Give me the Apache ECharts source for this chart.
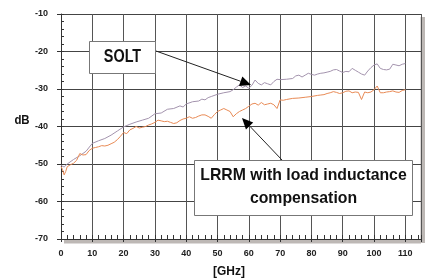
<!DOCTYPE html>
<html><head><meta charset="utf-8">
<script src="https://cdn.jsdelivr.net/npm/echarts@6/dist/echarts.min.js"></script>
<style>html,body{margin:0;padding:0;background:#fff}#c{width:425px;height:280px}</style>
</head><body><div id="c"></div>
<script>
const FONT = '"Liberation Sans",Arial,sans-serif';
const xTickLabels = [0,10,20,30,40,50,60,70,80,90,100,110];
const yTickLabels = [-70,-60,-50,-40,-30,-20,-10];

const soltX = [0,1,2,4,6,8,10,12,14,16,18,20,22,24,26,28,30,32,34,36,38,39,40,42,44,45,46,47,48,50,52,54,55,56,57,58,59,60,61,62,63,64,65,66,67,68,69,70,72,74,75,76,77,78,79,80,81,82,83,84,85,86,87,88,89,90,91,92,93,94,95,96,97,98,99,100,101,102,103,104,105,106,107,108,109,110];
const soltY = [-50.4,-50.8,-50,-48.8,-47.8,-46.6,-44.5,-43.8,-43.2,-42.3,-41.2,-40.1,-39.4,-38.8,-38.3,-37.8,-36.6,-36.4,-35.4,-35.2,-34.5,-34.8,-34.0,-33.4,-33.2,-32.7,-32.9,-32.3,-32.0,-31.4,-31.0,-30.7,-30.2,-29.5,-28.9,-29.6,-29.2,-29.8,-29.0,-27.6,-28.5,-28.9,-28.3,-28.6,-28.9,-28.0,-27.4,-27.5,-27.4,-27.2,-26.5,-26.3,-26.8,-26.3,-25.8,-26.1,-26.3,-26.0,-25.8,-25.7,-25.5,-25.3,-24.9,-24.8,-25.2,-25.6,-25.3,-25.4,-24.5,-25.0,-25.5,-26.0,-26.3,-25.2,-24.3,-23.6,-23.3,-24.5,-24.8,-24.9,-24.7,-23.4,-23.6,-23.8,-23.4,-23.2];

const lrrmX = [0,0.5,1,1.5,2,3,4,5,6,7,7.5,8,9,10,11,12,13,14,15,16,17,18,19,20,21,22,23,24,25,26,27,28,29,30,31,32,33,34,35,36,37,38,39,40,41,42,43,44,45,46,47,48,49,50,51,52,53,54,55,56,57,58,59,60,61,62,63,64,65,66,67,68,69,70,71,72,74,76,78,80,82,83,84,85,86,87,88,89,90,91,92,93,94,95,96,97,98,99,100,101,102,103,104,105,106,107,108,109,110];
const lrrmY = [-50.7,-51.5,-52.9,-52.0,-50.7,-50.2,-49.8,-49.0,-47.2,-47.6,-48,-47.5,-46.4,-45.8,-45.6,-45.4,-45.1,-45.2,-45.0,-44.6,-44.2,-43.5,-42.6,-41.6,-41.9,-40.9,-40.5,-40.0,-40.4,-40.2,-40.0,-39.6,-39.3,-38.9,-38.3,-38.5,-38.7,-38.6,-38.9,-39.2,-39.0,-38.4,-38.0,-37.8,-37.4,-37.8,-37.6,-37.2,-36.9,-36.9,-37.3,-37.8,-36.8,-36.0,-35.6,-35.2,-35.6,-36.0,-37.4,-36.6,-36.0,-35.6,-35.2,-34.6,-34.0,-33.8,-34.3,-33.6,-34.2,-34.0,-33.8,-34.2,-35.2,-32.9,-33.0,-32.8,-32.5,-32.4,-32.2,-32.0,-31.7,-31.6,-31.5,-31.2,-31.0,-30.7,-30.9,-31.2,-31.0,-30.6,-30.5,-31.0,-30.8,-30.9,-32.8,-30.8,-31.0,-30.8,-30.2,-29.2,-31.0,-31.0,-30.8,-30.7,-30.5,-30.8,-30.9,-30.4,-30.2];

const seriesNames = ['SOLT','LRRM with load inductance','compensation'];

function pairs(xs, ys){ return xs.map((x,i)=>[x, ys[i]]); }

function arrow(x1,y1,x2,y2){
  const dx=x2-x1, dy=y2-y1, L=Math.hypot(dx,dy), ux=dx/L, uy=dy/L;
  const hl=11, hw=5;
  const bx=x2-ux*hl, by=y2-uy*hl;
  return [
    {type:'line', shape:{x1:x1,y1:y1,x2:bx,y2:by}, style:{stroke:'#222',lineWidth:1}, z:100},
    {type:'polygon', shape:{points:[[x2,y2],[bx-uy*hw,by+ux*hw],[bx+uy*hw,by-ux*hw]]}, style:{fill:'#000'}, z:100}
  ];
}
function txt(t,x,y,size,sx){
  return {type:'text', x:x, y:y, scaleX:sx, style:{text:t, fontFamily:FONT, fontWeight:'bold', fontSize:size, fill:'#111', align:'center', verticalAlign:'middle'}, z:101};
}

const chart = echarts.init(document.getElementById('c'));
const lbl = {fontFamily:FONT, fontWeight:'bold', fontSize:9, color:'#222'};
chart.setOption({
  animation:false,
  grid:{left:61,right:4,top:14,bottom:41},
  xAxis:[{
    type:'value', min:0, max:115, interval:10,
    axisLine:{lineStyle:{color:'#333',width:1}},
    axisTick:{inside:true,length:4,lineStyle:{color:'#333'}},
    minorTick:{show:true,splitNumber:5,length:4,lineStyle:{color:'#333'}},
    splitLine:{show:true,lineStyle:{color:'#555',width:1}},
    axisLabel:Object.assign({margin:10, formatter:v=>xTickLabels.includes(v)?String(v):''}, lbl)
  },{
    type:'value', min:0, max:115, interval:10, position:'bottom',
    axisLine:{show:false}, axisTick:{show:true,length:3,lineStyle:{color:'#333'}},
    axisLabel:{show:false}, splitLine:{show:false}
  }],
  yAxis:[{
    type:'value', min:-70, max:-10, interval:10,
    axisLine:{show:true,lineStyle:{color:'#333',width:1}},
    axisTick:{show:true,inside:true,length:3,lineStyle:{color:'#333'}},
    minorTick:{show:true,splitNumber:5,length:3,lineStyle:{color:'#333'}},
    splitLine:{show:true,lineStyle:{color:'#444',width:1}},
    axisLabel:Object.assign({margin:13, formatter:v=>yTickLabels.includes(v)?String(v):''}, lbl)
  },{
    type:'value', min:-70, max:-10, interval:10, position:'left',
    axisLine:{show:false}, axisTick:{show:true,length:4,lineStyle:{color:'#333'}},
    axisLabel:{show:false}, splitLine:{show:false}
  }],
  series:[
    {name:seriesNames[0], type:'line', showSymbol:false, data:pairs(soltX,soltY), lineStyle:{color:'#a393ad',width:1}, z:5},
    {name:seriesNames[1], type:'line', showSymbol:false, data:pairs(lrrmX,lrrmY), lineStyle:{color:'#e88a55',width:1}, z:6}
  ],
  graphic:[
    {type:'rect', shape:{x:64,y:240,width:357,height:3.5}, style:{fill:'#bdb8b5'}, z:0},
    {type:'rect', shape:{x:420.5,y:17,width:4.5,height:226}, style:{fill:'#bdb8b5'}, z:0},
    {type:'rect', shape:{x:89.5,y:41.5,width:66,height:32}, style:{fill:'#fff',stroke:'#777',lineWidth:1}, z:90},
    txt(seriesNames[0],122.5,57,18,0.8),
    {type:'rect', shape:{x:194.5,y:160.5,width:218,height:55}, style:{fill:'#fff',stroke:'#777',lineWidth:1}, z:90},
    txt(seriesNames[1],303.5,175.5,17,0.93),
    txt(seriesNames[2],303.5,198.5,17,0.93),
    txt('dB',22,120,13,0.88),
    txt('[GHz]',229,271,13,0.92)
  ].concat(arrow(156,51,251,85)).concat(arrow(282,160,242,118))
});
</script></body></html>
